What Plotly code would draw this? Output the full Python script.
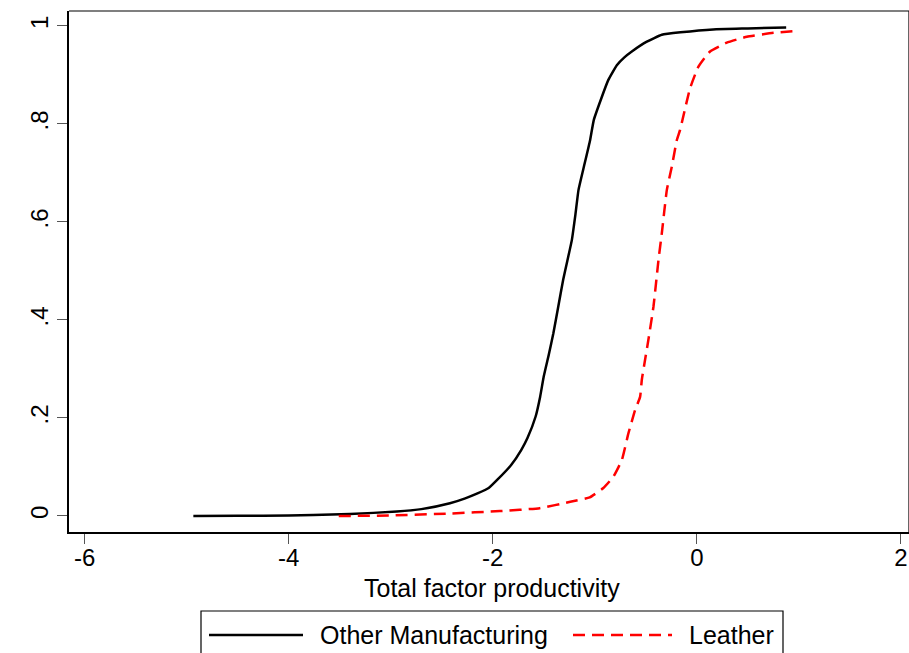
import plotly.graph_objects as go

# ---- data ----
other_x = [-4.935, -4.5, -4.0, -3.76, -3.4, -2.94, -2.7, -2.42, -2.27, -2.15, -2.04, -1.95,
           -1.82, -1.72, -1.66, -1.58, -1.536, -1.50, -1.45, -1.406, -1.36, -1.31, -1.27,
           -1.225, -1.19, -1.16, -1.11, -1.046, -1.01, -0.94, -0.867, -0.784, -0.71, -0.637,
           -0.49, -0.343, -0.16, 0.16, 0.5, 0.876]
other_y = [0.000, 0.0005, 0.001, 0.002, 0.004, 0.009, 0.014, 0.026, 0.036, 0.046, 0.057, 0.075,
           0.104, 0.135, 0.159, 0.203, 0.243, 0.285, 0.33, 0.373, 0.425, 0.482, 0.52,
           0.563, 0.615, 0.665, 0.71, 0.767, 0.808, 0.850, 0.890, 0.920, 0.936, 0.948,
           0.968, 0.982, 0.987, 0.993, 0.995, 0.997]

leather_x = [-3.51, -3.0, -2.42, -1.93, -1.54, -1.24, -1.05, -0.916, -0.818, -0.735, -0.67,
             -0.605, -0.556, -0.539, -0.475, -0.425, -0.376, -0.343, -0.294, -0.245, -0.196,
             -0.164, -0.066, 0.016, 0.13, 0.294, 0.49, 0.751, 0.996]
leather_y = [0.000, 0.001, 0.005, 0.010, 0.016, 0.029, 0.038, 0.057, 0.080, 0.114, 0.169,
             0.216, 0.243, 0.278, 0.359, 0.427, 0.522, 0.577, 0.665, 0.713, 0.767,
             0.788, 0.873, 0.917, 0.948, 0.966, 0.978, 0.986, 0.990]

series_names = ["Other Manufacturing", "Leather"]
x_ticks = [-6, -4, -2, 0, 2]
x_ticktext = ["-6", "-4", "-2", "0", "2"]
y_ticks = [0, 0.2, 0.4, 0.6, 0.8, 1]
y_ticktext = ["0", ".2", ".4", ".6", ".8", "1"]
x_title = "Total factor productivity"

FONT = "Liberation Sans, Arial, sans-serif"
FS = 25
TFS = 24

fig = go.Figure()
fig.add_trace(go.Scatter(x=other_x, y=other_y, mode="lines", name=series_names[0],
                         line=dict(color="black", width=2.5, shape="spline", smoothing=0.4),
                         showlegend=False))
fig.add_trace(go.Scatter(x=leather_x, y=leather_y, mode="lines", name=series_names[1],
                         line=dict(color="#ff0000", width=2.5, dash="12px,7px",
                                   shape="spline", smoothing=0.4),
                         showlegend=False))

W, H = 909, 653
L, R, T, B = 69, 0, 11, 121
pw, ph = W - L - R, H - T - B


def px2paper(px, py):
    return (px - L) / pw, (H - B - py) / ph


fig.update_layout(
    width=W, height=H,
    margin=dict(l=L, r=R, t=T, b=B),
    paper_bgcolor="white", plot_bgcolor="white",
    font=dict(family=FONT, size=FS, color="black"),
    xaxis=dict(range=[-6.154, 2.08], tickvals=x_ticks, ticktext=x_ticktext,
               ticks="outside", ticklen=10, ticklabelstandoff=-7,
               tickcolor="#555555", tickwidth=1, showgrid=False, zeroline=False,
               showline=True, linecolor="black", linewidth=2,
               tickfont=dict(size=TFS, family=FONT)),
    yaxis=dict(range=[-0.0327, 1.0306], tickvals=y_ticks, ticktext=y_ticktext,
               tickangle=-90, ticks="outside", ticklen=10, tickcolor="#555555", tickwidth=1,
               showgrid=False, zeroline=False, showline=True, linecolor="black", linewidth=1.5,
               tickfont=dict(size=TFS, family=FONT)),
)

# x-axis title
fig.add_annotation(xref="paper", yref="paper", x=px2paper(492, 0)[0], y=px2paper(0, 588)[1],
                   text=x_title, showarrow=False, xanchor="center", yanchor="middle",
                   font=dict(size=FS, family=FONT, color="black"))

# top/right frame
fig.add_shape(type="line", xref="paper", yref="paper", x0=0, x1=1, y0=1, y1=1,
              line=dict(color="black", width=1.2))
fig.add_shape(type="line", xref="paper", yref="paper", x0=1, x1=1, y0=0, y1=1,
              line=dict(color="black", width=1.2))

# custom legend
bx0, by0 = px2paper(201, 611)
bx1, by1 = px2paper(783, 665)
fig.add_shape(type="rect", xref="paper", yref="paper", x0=bx0, x1=bx1, y0=by1, y1=by0,
              line=dict(color="black", width=1.2), fillcolor="white")
ly = px2paper(0, 635)[1]
items = [(209, 303, 318, "black", "solid"), (573, 672, 687, "#ff0000", "12px,7px")]
for name, (sx0, sx1, tx, col, dash) in zip(series_names, items):
    a0 = px2paper(sx0, 0)[0]
    a1 = px2paper(sx1, 0)[0]
    fig.add_shape(type="line", xref="paper", yref="paper", x0=a0, x1=a1, y0=ly, y1=ly,
                  line=dict(color=col, width=2.5, dash=dash))
    fig.add_annotation(xref="paper", yref="paper", x=px2paper(tx, 0)[0], y=ly, text=name,
                       showarrow=False, xanchor="left", yanchor="middle",
                       font=dict(size=FS, family=FONT, color="black"))

fig.write_html("out.html")
